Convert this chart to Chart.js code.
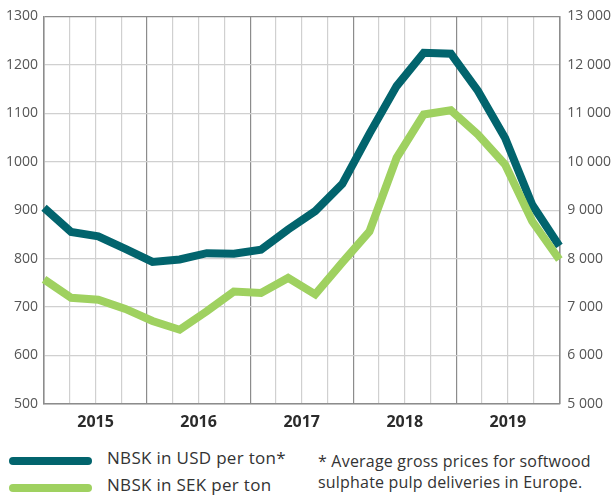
<!DOCTYPE html>
<html>
<head>
<meta charset="utf-8">
<script src="https://cdn.jsdelivr.net/npm/chart.js@4"></script>
<style>
  html, body { margin: 0; padding: 0; background: #fff; }
  body { width: 614px; height: 497px; position: relative; overflow: hidden; font-family: 'Open Sans', sans-serif; color: #333; }
  #wrap { position: absolute; left: 0; top: 0; width: 619px; height: 441px; }
  .leg { position: absolute; left: 9px; height: 0; }
  .swatch { position: absolute; left: 0; width: 83px; height: 8px; border-radius: 4px; }
  .leg span.txt { position: absolute; left: 98px; top: -11px; font-size: 17px; letter-spacing: 0.3px; white-space: nowrap; color: #333; }
  #note { position: absolute; left: 318px; top: 451px; font-size: 16px; letter-spacing: 0.2px; line-height: 21px; color: #333; white-space: nowrap; }
</style>
</head>
<body>
<div id="wrap"><canvas id="chartNbsk"></canvas></div>
<div id="legend"></div>
<div id="note">* Average gross prices for softwood<br>sulphate pulp deliveries in Europe.</div>
<script>
    // quarterly points, Q1 2015 .. Q4 2019
    const quarters = [
        'Q1 2015', 'Q2 2015', 'Q3 2015', 'Q4 2015',
        'Q1 2016', 'Q2 2016', 'Q3 2016', 'Q4 2016',
        'Q1 2017', 'Q2 2017', 'Q3 2017', 'Q4 2017',
        'Q1 2018', 'Q2 2018', 'Q3 2018', 'Q4 2018',
        'Q1 2019', 'Q2 2019', 'Q3 2019', 'Q4 2019'
    ];
    const years = ['2015', '2016', '2017', '2018', '2019'];

    const nbskUsd = [
        905, 855, 846, 820, 793, 798, 811, 810, 818, 860,
        898, 954, 1058, 1156, 1225, 1223, 1146, 1049, 911, 826
    ];
    const nbskSek = [
        7570, 7190, 7150, 6960, 6710, 6530, 6910, 7320, 7290, 7600,
        7260, 7920, 8560, 10080, 10975, 11060, 10560, 9940, 8770, 7980
    ];

    const usdTicks = [500, 1300, 100];
    const sekTicks = [5000, 13000, 1000];

    const corUsd = '#02646d';
    const corSek = '#9fd160';

    const series = [
        { label: 'NBSK in USD per ton*', data: nbskUsd, color: corUsd, axis: 'yUsd' },
        { label: 'NBSK in SEK per ton', data: nbskSek, color: corSek, axis: 'ySek' }
    ];

    function formatarMilhar(v) {
        return String(v).replace(/\B(?=(\d{3})+(?!\d))/g, ' ');
    }

    function criarLegenda() {
        const box = document.getElementById('legend');
        series.forEach(function(s, i) {
            const item = document.createElement('div');
            item.className = 'leg';
            item.style.top = (457 + i * 27) + 'px';
            item.innerHTML = '<div class="swatch" style="background:' + s.color + '"></div>' +
                '<span class="txt">' + s.label + '</span>';
            box.appendChild(item);
        });
    }

    function criarGrafico() {
        const ctx = document.getElementById('chartNbsk');

        new Chart(ctx.getContext('2d'), {
            type: 'line',
            data: {
                labels: quarters,
                datasets: series.slice().reverse().map(function(s) {
                    return {
                        label: s.label,
                        data: s.data,
                        borderColor: s.color,
                        backgroundColor: s.color,
                        borderWidth: 8,
                        pointRadius: 0,
                        tension: 0,
                        yAxisID: s.axis,
                        xAxisID: 'x'
                    };
                })
            },
            options: {
                responsive: true,
                maintainAspectRatio: false,
                animation: false,
                layout: { padding: { top: 8, right: 0, left: 0, bottom: 0 } },
                plugins: {
                    legend: { display: false },
                    tooltip: { enabled: false }
                },
                scales: {
                    x: {
                        type: 'category',
                        display: false,
                        offset: false
                    },
                    xq: {
                        type: 'linear',
                        position: 'bottom',
                        min: 0,
                        max: quarters.length,
                        grid: {
                            color: function(c) {
                                return c.tick && c.tick.value % 4 === 0 ? '#8c8c8c' : '#d0d0d0';
                            },
                            lineWidth: 1.2,
                            drawTicks: false
                        },
                        border: { color: '#8c8c8c', width: 1.5 },
                        ticks: {
                            stepSize: 1,
                            autoSkip: false,
                            maxRotation: 0,
                            padding: 9,
                            color: '#2b2b2b',
                            font: { family: 'Open Sans', size: 16, weight: 'bold' },
                            callback: function(value) {
                                return value % 4 === 2 ? years[(value - 2) / 4] : '';
                            }
                        }
                    },
                    yUsd: {
                        type: 'linear',
                        position: 'left',
                        min: usdTicks[0],
                        max: usdTicks[1],
                        grid: {
                            color: function(c) {
                                return c.tick && c.tick.value === usdTicks[1] ? '#8c8c8c' : '#d0d0d0';
                            },
                            lineWidth: 1.2,
                            drawTicks: false
                        },
                        border: { color: '#8c8c8c', width: 1.5 },
                        ticks: {
                            stepSize: usdTicks[2],
                            padding: 6,
                            color: '#555',
                            font: { family: 'Open Sans', size: 14 },
                            callback: function(value) {
                                return String(value);
                            }
                        }
                    },
                    ySek: {
                        type: 'linear',
                        position: 'right',
                        min: sekTicks[0],
                        max: sekTicks[1],
                        grid: { display: false, drawTicks: false },
                        border: { color: '#8c8c8c', width: 1.5 },
                        ticks: {
                            stepSize: sekTicks[2],
                            padding: 8,
                            color: '#555',
                            font: { family: 'Open Sans', size: 14 },
                            callback: function(value) {
                                return formatarMilhar(value);
                            }
                        }
                    }
                }
            }
        });
    }

    criarLegenda();
    criarGrafico();
</script>
</body>
</html>
